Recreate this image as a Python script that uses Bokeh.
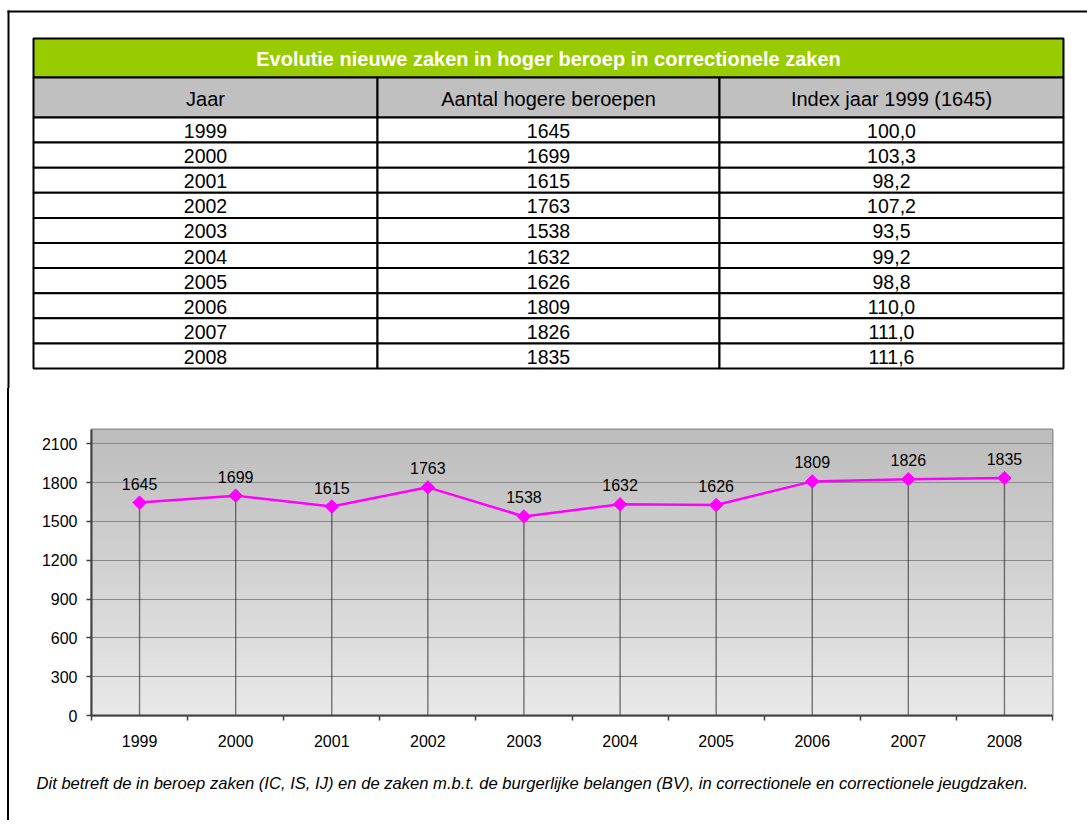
import numpy as np
from bokeh.plotting import figure
from bokeh.models import Range1d, FixedTicker, ColumnDataSource
from bokeh.core.properties import value
from bokeh.embed import file_html
from bokeh.resources import INLINE

# ---------------- data ----------------
years = ["1999", "2000", "2001", "2002", "2003", "2004", "2005", "2006", "2007", "2008"]
cases = [1645, 1699, 1615, 1763, 1538, 1632, 1626, 1809, 1826, 1835]
index_1999 = [100.0, 103.3, 98.2, 107.2, 93.5, 99.2, 98.8, 110.0, 111.0, 111.6]
table_title = "Evolutie nieuwe zaken in hoger beroep in correctionele zaken"
headers = ["Jaar", "Aantal hogere beroepen", "Index jaar 1999 (1645)"]
y_ticks = [0, 300, 600, 900, 1200, 1500, 1800, 2100]
footnote = ("Dit betreft de in beroep zaken (IC, IS, IJ) en de zaken m.b.t. de burgerlijke "
            "belangen (BV), in correctionele en correctionele jeugdzaken.")

FONT = "Liberation Sans"
PAGE_W = 1087
H1 = 388           # table block: page y 0..388
H2 = 374           # chart block: page y 388..762
H3 = 58            # footnote block: page y 762..820
CX = 9             # content x start for chart/footnote (after 7px margin + 2px border)
BORDER_CSS = {"margin-left": "7px", "border-left": "2px solid black"}

# ---------------- table ----------------
t = figure(width=PAGE_W, height=H1, x_range=Range1d(0, PAGE_W), y_range=Range1d(H1, 0),
           output_backend="svg", toolbar_location=None, min_border=0,
           x_axis_type=None, y_axis_type=None)
t.grid.visible = False
t.outline_line_color = None
t.background_fill_color = "white"
t.border_fill_color = "white"

# outer frame of the page (top and left edges)
t.segment(x0=[7, 8], y0=[11, 10], x1=[PAGE_W, 8], y1=[11, H1], line_color="black", line_width=2)

col_edges = [33, 377, 719, 1063]
title_top, title_bot = 38, 77
head_bot = 117
row_h = 25.1

t.quad(left=[col_edges[0]], right=[col_edges[-1]], top=[title_top], bottom=[title_bot],
       fill_color="#99CC00", line_color="black", line_width=2)
t.text(x=[(col_edges[0] + col_edges[-1]) / 2], y=[(title_top + title_bot) / 2 + 0.5], text=[table_title],
       text_font=value(FONT), text_font_size="20px", text_font_style="bold",
       text_color="white", text_align="center", text_baseline="middle")

hl = col_edges[:-1]
hr = col_edges[1:]
t.quad(left=hl, right=hr, top=[title_bot] * 3, bottom=[head_bot] * 3,
       fill_color="#C0C0C0", line_color="black", line_width=2)
t.text(x=[(a + b) / 2 for a, b in zip(hl, hr)], y=[(title_bot + head_bot) / 2 + 1] * 3, text=headers,
       text_font=value(FONT), text_font_size="20px", text_color="black",
       text_align="center", text_baseline="middle")

n = len(years)
lefts, rights, tops, bots = [], [], [], []
tx, ty, tt = [], [], []
for i in range(n):
    top = head_bot + i * row_h
    bot = head_bot + (i + 1) * row_h
    vals = [years[i], str(cases[i]), f"{index_1999[i]:.1f}".replace(".", ",")]
    for j in range(3):
        lefts.append(hl[j]); rights.append(hr[j]); tops.append(top); bots.append(bot)
        tx.append((hl[j] + hr[j]) / 2); ty.append((top + bot) / 2 + 1); tt.append(vals[j])
t.quad(left=lefts, right=rights, top=tops, bottom=bots,
       fill_color="white", line_color="black", line_width=2)
t.text(x=tx, y=ty, text=tt, text_font=value(FONT), text_font_size="19.5px",
       text_color="black", text_align="center", text_baseline="middle")

# ---------------- chart ----------------
xs = list(range(n))
c = figure(width=PAGE_W - CX, height=H2, x_range=Range1d(-0.5, n - 0.5), y_range=Range1d(0, 2210),
           output_backend="svg", toolbar_location=None,
           min_border_left=82, min_border_right=35, min_border_top=41, min_border_bottom=47)
c.styles = BORDER_CSS
c.background_fill_color = "#D4D4D4"
c.border_fill_color = "white"

N = 256
grad = np.zeros((N, 1), dtype=np.uint32)
view = grad.view(dtype=np.uint8).reshape((N, 1, 4))
top_c = np.array([0xBD, 0xBD, 0xBD], dtype=float)
bot_c = np.array([0xE9, 0xE9, 0xE9], dtype=float)
for k in range(N):
    f = k / (N - 1)
    col = bot_c + (top_c - bot_c) * f
    view[k, 0, 0:3] = col.astype(np.uint8)
    view[k, 0, 3] = 255
c.image_rgba(image=[grad], x=-0.5, y=0, dw=n, dh=2210, level="image")

c.xgrid.visible = False
c.ygrid.ticker = FixedTicker(ticks=y_ticks)
c.ygrid.grid_line_color = "#8A8A8A"
c.ygrid.grid_line_width = 1
c.ygrid.level = "underlay"

c.outline_line_color = "#8C8C8C"
c.outline_line_width = 2

src = ColumnDataSource(dict(x=xs, y=cases, lab=[str(v) for v in cases], zero=[0] * n))
c.segment(x0="x", y0="zero", x1="x", y1="y", source=src, line_color="black",
          line_width=1.4, line_dash="1 1")
c.line(x="x", y="y", source=src, line_color="#FF00FF", line_width=2.5)
c.scatter(x="x", y="y", source=src, marker="square", angle=np.pi / 4, size=9.5,
          fill_color="#FF00FF", line_color="#FF00FF")
c.text(x="x", y="y", text="lab", source=src, y_offset=-19,
       text_font=value(FONT), text_font_size="16px", text_color="black",
       text_align="center", text_baseline="alphabetic")

c.xaxis.ticker = FixedTicker(ticks=xs, minor_ticks=[i - 0.5 for i in range(n + 1)])
c.xaxis.major_label_overrides = {i: y for i, y in enumerate(years)}
c.xaxis.major_tick_out = 0
c.xaxis.major_tick_in = 0
c.xaxis.minor_tick_out = 5
c.xaxis.minor_tick_in = 0
c.xaxis.minor_tick_line_color = "#404040"
c.xaxis.minor_tick_line_width = 1.5
c.xaxis.major_label_standoff = 14
c.xaxis.major_label_text_font = FONT
c.xaxis.major_label_text_font_size = "16px"
c.xaxis.major_label_text_color = "black"
c.xaxis.axis_line_color = "#404040"
c.xaxis.axis_line_width = 2

c.yaxis.ticker = FixedTicker(ticks=y_ticks)
c.yaxis.major_tick_out = 5
c.yaxis.major_tick_in = 0
c.yaxis.minor_tick_line_color = None
c.yaxis.major_tick_line_color = "#404040"
c.yaxis.major_tick_line_width = 1.5
c.yaxis.major_label_standoff = 9
c.yaxis.major_label_text_font = FONT
c.yaxis.major_label_text_font_size = "16px"
c.yaxis.major_label_text_color = "black"
c.yaxis.axis_line_color = "#404040"
c.yaxis.axis_line_width = 2

# ---------------- footnote ----------------
y0 = H1 + H2
fn = figure(width=PAGE_W - CX, height=H3, x_range=Range1d(CX, PAGE_W), y_range=Range1d(y0 + H3, y0),
            output_backend="svg", toolbar_location=None, min_border=0,
            x_axis_type=None, y_axis_type=None)
fn.styles = BORDER_CSS
fn.grid.visible = False
fn.outline_line_color = None
fn.text(x=[36], y=[782.5], text=[footnote], text_font=value(FONT), text_font_size="16.6px",
        text_font_style="italic", text_color="black", text_align="left", text_baseline="middle")

open("out.html", "w").write(file_html([t, c, fn], INLINE))
